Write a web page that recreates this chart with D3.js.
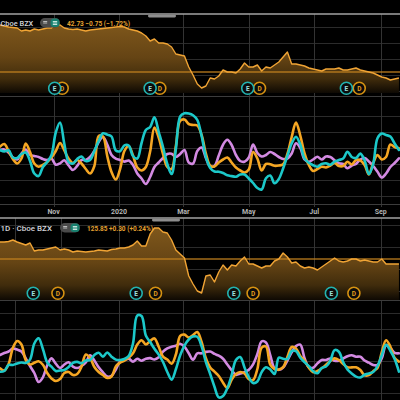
<!DOCTYPE html>
<html><head><meta charset="utf-8">
<script src="https://cdn.jsdelivr.net/npm/d3@7"></script>
<style>html,body{margin:0;padding:0;background:#000;overflow:hidden}svg{display:block}</style>
</head><body>
<svg id="c" width="400" height="400"></svg>
<script>
// ---------- data ----------
const startDate = "2019-09-12", endDate = "2020-09-19", stepDays = 4;
const axisTickDates = ["2019-11-01","2020-01-01","2020-03-01","2020-05-01","2020-07-01","2020-09-01"];
const axisTickLabels = ["Nov","2020","Mar","May","Jul","Sep"];
const bottomGridDates = ["2019-09-26","2019-11-08","2020-01-01","2020-03-01","2020-05-01","2020-07-01","2020-09-01"];

const topHeader = "Cboe BZX";
const topQuote = "42.73 \u22120.75 (\u22121.72%)";
const topLast = 42.73;
const bottomHeader = "1D \u00b7 Cboe BZX";
const bottomQuote = "125.85 +0.30 (+0.24%)";
const bottomLast = 125.85;

const topPrice = [54.48,54.23,53.98,53.86,53.73,52.98,53.23,52.98,53.48,53.23,
 53.48,53.73,53.73,54.98,54.48,53.73,53.48,53.36,53.48,53.23,
 52.98,53.23,53.36,53.48,53.61,53.73,53.86,53.98,54.11,53.98,
 53.48,53.23,52.98,52.48,51.73,50.48,50.98,49.98,49.98,49.73,
 48.98,47.23,46.98,46.73,43.98,41.98,39.73,38.73,39.23,41.23,
 40.98,41.73,43.23,42.73,42.73,42.48,43.48,44.98,43.98,43.98,
 44.48,42.98,43.98,43.73,44.48,45.23,46.48,47.73,44.73,44.73,
 44.48,44.23,43.73,43.48,43.23,42.98,43.48,43.48,43.48,43.73,
 43.23,43.23,43.48,43.73,43.23,42.98,42.73,42.48,41.98,41.48,
 41.23,40.73,40.98,41.23];

const bottomPrice = [134.35,134.35,134.6,135.35,134.35,133.6,132.85,133.85,129.85,130.35,
 130.35,130.85,131.35,131.85,130.35,130.85,130.35,129.35,129.85,129.6,
 129.35,129.6,129.85,130.35,130.1,129.85,130.6,130.85,131.35,131.35,
 131.85,132.85,134.85,132.35,132.35,138.35,141.35,141.35,139.35,138.85,
 135.35,130.35,128.35,126.35,117.35,113.35,109.85,108.85,117.35,117.85,
 114.35,119.35,122.85,120.35,122.85,122.35,124.85,126.85,123.35,123.35,
 122.35,121.35,122.35,122.35,124.85,125.85,128.85,126.85,123.85,124.35,
 122.35,121.35,121.85,121.35,120.35,121.85,123.35,124.85,126.35,124.85,
 124.35,124.85,125.85,125.85,124.85,125.35,124.85,124.35,124.35,125.85,
 123.35,123.35,123.35,123.35];

const topOrange = [3.3,6,-1,-9,-13.5,-8.5,6.5,-2,-13.5,-16.7,
 -15,-12,-7.5,-1,7,-0.5,-8.7,-13.2,-10,-13.5,
 -19,-23.5,-16,14,13.5,-6,-22,-29.5,-19,-1,
 4,-5.5,-17.5,-20.5,-17,-1.5,22.5,12.5,-4,-17,
 -19,4,29.2,30.5,26,25,24.5,15,-3.5,-15.7,
 -16.5,-12.5,-9.5,-7.5,-12.5,-17.5,-20.5,-22.5,-19.5,-2,
 -8.5,-20.5,-14,-14.3,-15.8,-15.5,-14.3,-4,13,27.5,
 14.5,-3.5,-15,-21,-19,-16.7,-17.5,-15.5,-13,-16,
 -16,-11.7,-14.5,-10,-10.3,-15,-24.5,-13,-5,-9.5,
 -7,5.5,3,1.7];
const topCyan = [0,-1.5,-0.3,-7.5,-8,-4,-2.5,-11,-23.5,-26,
 -17,-12,-5,17.5,27.5,6,-12,-13.5,-9,-6.5,
 -11,-10,-1,9,16.7,15.4,13.5,-0.5,-1.2,4.7,
 4.5,-6,-8.5,7,20,23,32.7,18,3,-14,
 -24,1,33.5,36.7,36.5,34.8,30,14,-7,-18,
 -21.5,-21.7,-23,-25.3,-26.1,-26.7,-24.5,-24.5,-28.5,-33,
 -38,-39.5,-28.3,-25.5,-33.3,-29,-18.5,-6,6.5,13.3,
 5.5,-8.6,-12.8,-15.2,-16.7,-14,-13.3,-14.7,-11.6,-10,
 -8.6,-1.7,-7,-8,-3.6,-10.5,-24,-14,11.8,16.4,
 15,13.4,6.5,0];
const topViolet = [0,0.5,-2.5,-7.5,-9.5,-3.5,0.5,-5,-6,-7,
 -9,-10,-8.5,-14.7,-13.3,-10.3,-15.5,-20,-15.8,-10,
 -10,-7,-1,8,13,5.5,-5,-8.7,-10,-11.6,
 -10.5,-15,-23.5,-28.5,-34,-27,-17,-12.5,-8,-4,
 -3.7,-7,-4,0,-12.5,-13.5,-1,2.5,-8,-16.5,
 -16,-5.5,5.3,10.2,5,-5,-11,-11.7,-7.5,5.5,
 -3,-6.5,-5,-2,-4,-7,-9,-8.5,-3.5,6.7,
 2,-9.5,-11.7,-9.5,-6.7,-9.5,-6.5,-7,-10.3,-13.3,
 -14,-18.3,-15.5,-13.8,-9.5,-8,-11.5,-16,-21.7,-27.5,
 -23.5,-17,-13,-8.3];

const bottomOrange = [-8.3,-10.5,-4,12,19,15.5,0,-4.5,-2.8,-1.3,
 -4.8,-13,-18.5,-21,-19,-13,-12,-15,-14,-6.7,
 5.5,2,-7,-12,-15,-18,-16.5,-6.5,-2.7,-0.7,
 2.4,6.7,15.5,19.8,15.5,19,21.6,13.2,3.3,0.4,
 -3.7,5.5,24.2,25.4,22.5,25,28,18,1.7,-7.5,
 -11.7,-16,-22.7,-28,-19.7,-14,-12,-13.5,-19.2,-20,
 -9,12.3,13.5,-4.6,-9,-9.6,-7.2,3,13,11.5,
 4,-0.5,-7.7,-12.2,-11,-8.3,-4.8,-1,1.6,0,
 -4,-7.2,-7.4,-7.3,-10,-15.3,-15,-11.2,-8,7.8,
 19.8,13.5,2,-1.6];
const bottomCyan = [-11.7,-11,-5,-5,-3.5,-2.5,-3,0.4,16.5,21.7,
 11,-2.3,-6.7,-11,-10.5,-10,-7,-2.8,-1.9,-3.3,
 -0.5,0,5,7.2,3.4,7.5,3.3,0.4,0,1,
 4,16.5,44.5,44,24.5,18,11.3,5.4,-2,-12,
 -19.6,-9.3,4.7,14.4,20.5,23.4,23.2,13.6,-2.1,-14,
 -26.7,-37.4,-36,-28.2,-15.2,0,3,-7.4,-17.1,-23,
 -21.5,-12.1,-7.2,-9.5,-14,2.3,1.2,1.1,9,8.8,
 2.3,-2.1,-6.2,-11.1,-13.3,-8,-6.5,-0.8,9.9,8.3,
 -2,-9.4,-13.5,-16.6,-17.5,-14.8,-13.4,-12,-6,4.8,
 15.3,9.3,1,-11.6];
const bottomViolet = [5,7,8.5,11.5,10.4,8.5,1.7,-6,-13,-22,
 -17.3,-5.5,1.6,-3.7,-8,-4.5,-2.2,-6.6,-8,-6,
 -2.4,4.7,-0.5,-7.3,-12.3,-16.6,-15.9,-9.5,-1.6,0,
 1.4,-1.7,1.2,-0.7,1.2,1.9,0.5,2.7,8.4,11.6,
 13.3,14.2,16.3,13.4,6.8,0.3,6.7,6.7,8.1,8.4,
 6.1,4.3,1.3,-4.5,-10.2,-14.8,-13.6,-12.2,-9.8,-4.3,
 6,18.6,17.5,4.9,-8.4,-9.8,-7.5,-0.5,7.7,13.9,
 15.3,1.7,-7.2,-7.8,-3.4,0,0,1.5,-0.8,-0.7,
 1.5,3.8,4.7,3.3,3.3,-0.5,-2.7,-5,-5,1.7,
 14.8,12,7.2,6.7];

const topEarnings = ["2019-11-02","2020-01-30","2020-04-30","2020-07-31"];
const topDividends = ["2019-11-09","2020-02-08","2020-05-11","2020-08-12"];
const bottomEarnings = ["2019-10-13","2020-01-17","2020-04-17","2020-07-17"];
const bottomDividends = ["2019-11-05","2020-02-04","2020-05-05","2020-08-07"];

const topPriceTicks = [38,42,46,50,54];
const bottomPriceTicks = [110,121,132,143];
const topOscTicks = [34,18,2,-14,-30,-46];
const bottomOscTicks = [47,31,15,-1,-17,-33];

// ---------- drawing ----------
const W = 400;
const parse = d3.utcParse("%Y-%m-%d");
const x = d3.scaleUtc().domain([parse(startDate), parse(endDate)]).range([0, W]);
const dates = topPrice.map((_, i) => d3.utcDay.offset(parse(startDate), i * stepDays));
const svg = d3.select("#c");
svg.append("rect").attr("width", W).attr("height", 400).attr("fill", "#000");
const defs = svg.append("defs");
const FONT = "Roboto, 'DejaVu Sans', sans-serif";
const COL = {orange:"#f5a623", cyan:"#1cc8c9", violet:"#d38ae2", price:"#f0a435", grid:"#2b2b2b"};

function panel(cfg, id) {
  const yP = d3.scaleLinear().domain(cfg.priceDomain).range(cfg.priceRange);
  const yO = d3.scaleLinear().domain(cfg.oscDomain).range(cfg.oscRange);
  const g = svg.append("g");

  defs.append("clipPath").attr("id","cp"+id).append("rect")
    .attr("x",0).attr("y",cfg.priceRange[1]).attr("width",W).attr("height",cfg.priceRange[0]-cfg.priceRange[1]);
  defs.append("clipPath").attr("id","co"+id).append("rect")
    .attr("x",0).attr("y",cfg.oscRange[1]).attr("width",W).attr("height",cfg.oscRange[0]-cfg.oscRange[1]);

  g.append("g").selectAll("line").data(cfg.priceTicks).join("line")
    .attr("x1",0).attr("x2",W).attr("y1",d=>Math.round(yP(d))+0.5).attr("y2",d=>Math.round(yP(d))+0.5)
    .attr("stroke",COL.grid).attr("stroke-width",1);
  g.append("g").selectAll("line").data(cfg.oscTicks).join("line")
    .attr("x1",0).attr("x2",W).attr("y1",d=>Math.round(yO(d))+0.5).attr("y2",d=>Math.round(yO(d))+0.5)
    .attr("stroke",COL.grid).attr("stroke-width",1);
  g.append("g").selectAll("line").data(cfg.vGrid).join("line")
    .attr("x1",d=>Math.round(x(parse(d)))+0.5).attr("x2",d=>Math.round(x(parse(d)))+0.5)
    .attr("y1",cfg.priceRange[1]).attr("y2",cfg.vGridEnd)
    .attr("stroke","#333").attr("stroke-width",1);

  const gid = "grad"+id;
  const grad = defs.append("linearGradient").attr("id",gid).attr("gradientUnits","userSpaceOnUse")
    .attr("x1",0).attr("x2",0).attr("y1",cfg.priceRange[1]+8).attr("y2",cfg.priceRange[0]);
  [[0,"#80581c"],[0.5,"#654414"],[0.8,"#402c0c"],[1,"#0e0903"]].forEach(s=>
    grad.append("stop").attr("offset",s[0]).attr("stop-color",s[1]));
  const pData = cfg.price.map((v,i)=>({d:dates[i],v}));
  const pg = g.append("g").attr("clip-path",`url(#cp${id})`);
  pg.append("path").datum(pData)
    .attr("d", d3.area().x(d=>x(d.d)).y0(cfg.priceRange[0]).y1(d=>yP(d.v)))
    .attr("fill",`url(#${gid})`);
  pg.append("line").attr("x1",0).attr("x2",W)
    .attr("y1",yP(cfg.last)).attr("y2",yP(cfg.last))
    .attr("stroke","#c0801f").attr("stroke-width",1.5).attr("opacity",0.85);
  pg.append("path").datum(pData)
    .attr("d", d3.line().x(d=>x(d.d)).y(d=>yP(d.v)))
    .attr("fill","none").attr("stroke",COL.price).attr("stroke-width",1.4).attr("stroke-linejoin","round");

  const my = cfg.markerY;
  function marker(dateStr, letter, color, textColor) {
    const mx = x(parse(dateStr));
    const mg = g.append("g");
    mg.append("circle").attr("cx",mx).attr("cy",my).attr("r",6)
      .attr("fill","#0b0b0b").attr("stroke",color).attr("stroke-width",1.6);
    mg.append("text").attr("x",mx).attr("y",my+2.3).attr("text-anchor","middle")
      .attr("font-family",FONT).attr("font-size",6.5).attr("font-weight",700)
      .attr("fill",textColor).text(letter);
  }
  cfg.dividends.forEach(d=>marker(d,"D","#d69212","#e39d1c"));
  cfg.earnings.forEach(d=>marker(d,"E","#23b3b0","#9fe3e0"));

  const og = g.append("g").attr("clip-path",`url(#co${id})`);
  const line = d3.line().x((d,i)=>x(dates[i])).y(d=>yO(d)).curve(d3.curveCatmullRom.alpha(0.5));
  [[cfg.violet,COL.violet],[cfg.orange,COL.orange],[cfg.cyan,COL.cyan]].forEach(([arr,c])=>{
    og.append("path").datum(arr).attr("d",line).attr("fill","none")
      .attr("stroke",c).attr("stroke-width",2.6).attr("stroke-linejoin","round").attr("stroke-linecap","round");
  });

  g.append("line").attr("x1",0).attr("x2",W).attr("y1",cfg.oscRange[1]+0.5).attr("y2",cfg.oscRange[1]+0.5)
    .attr("stroke","#3c3c3c").attr("stroke-width",1);
  g.append("line").attr("x1",0).attr("x2",W).attr("y1",cfg.priceRange[1]).attr("y2",cfg.priceRange[1])
    .attr("stroke","#a3a3a3").attr("stroke-width",1.6);
  g.append("rect").attr("x",cfg.handleX).attr("y",cfg.priceRange[1]+0.8).attr("width",28).attr("height",2.6)
    .attr("rx",1.3).attr("fill","#8d8d8d");

  const hy = cfg.headerY;
  g.append("text").attr("x",cfg.headerX).attr("y",hy).attr("text-anchor","start")
    .attr("font-family",FONT).attr("font-size",cfg.headerSize).attr("font-weight",500)
    .attr("fill","#d4d6dc").text(cfg.header);
  const tx = cfg.toggleX;
  g.append("rect").attr("x",tx).attr("y",hy-7.5).attr("width",20).attr("height",9.5).attr("rx",4.75).attr("fill","#4a4a4a");
  g.append("rect").attr("x",tx+10.5).attr("y",hy-7).attr("width",9).attr("height",8.5).attr("rx",3.5).attr("fill","#18806f");
  [[tx+3.2,tx+7.2,"#c8c8c8"],[tx+12.8,tx+17.2,"#d8f0ea"]].forEach(([a,b,c])=>{
    [-4,-2.5].forEach(o=>g.append("line").attr("x1",a).attr("x2",b).attr("y1",hy+o).attr("y2",hy+o)
      .attr("stroke",c).attr("stroke-width",0.9));
  });
  g.append("line").attr("x1",tx+12.8).attr("x2",tx+17.2).attr("y1",hy-1).attr("y2",hy-1).attr("stroke","#d8f0ea").attr("stroke-width",0.9);
  g.append("text").attr("x",cfg.quoteX).attr("y",hy).attr("font-family",FONT).attr("font-size",7)
    .attr("font-weight",700).attr("fill","#e3a031")
    .attr("textLength",cfg.quoteLen).attr("lengthAdjust","spacingAndGlyphs").text(cfg.quote);
  return {yP,yO};
}

panel({
  priceDomain:[37.48,57.23], priceRange:[93,14], oscDomain:[-54,54], oscRange:[204,96],
  priceTicks:topPriceTicks, oscTicks:topOscTicks, vGrid:axisTickDates, vGridEnd:207,
  price:topPrice, last:topLast, orange:topOrange, cyan:topCyan, violet:topViolet,
  earnings:topEarnings, dividends:topDividends, markerY:88.3, handleX:148,
  header:topHeader, headerX:0.5, headerSize:7.4, headerY:25.5, toggleX:40,
  quote:topQuote, quoteX:67, quoteLen:63
}, "t");

const axG = svg.append("g");
axG.append("line").attr("x1",0).attr("x2",W).attr("y1",204.5).attr("y2",204.5).attr("stroke","#3c3c3c");
axG.selectAll("text").data(axisTickDates).join("text")
  .attr("x",d=>x(parse(d))).attr("y",214).attr("text-anchor","middle")
  .attr("font-family",FONT).attr("font-size",7).attr("font-weight",700).attr("fill","#b4b4b4")
  .text((d,i)=>axisTickLabels[i]);

panel({
  priceDomain:[105.35,146.35], priceRange:[300,218], oscDomain:[-40,60], oscRange:[400,300],
  priceTicks:bottomPriceTicks, oscTicks:bottomOscTicks, vGrid:bottomGridDates, vGridEnd:400,
  price:bottomPrice, last:bottomLast, orange:bottomOrange, cyan:bottomCyan, violet:bottomViolet,
  earnings:bottomEarnings, dividends:bottomDividends, markerY:293.3, handleX:152,
  header:bottomHeader, headerX:0.5, headerSize:8, headerY:230.5, toggleX:60,
  quote:bottomQuote, quoteX:87, quoteLen:66
}, "b");
</script>
</body></html>
